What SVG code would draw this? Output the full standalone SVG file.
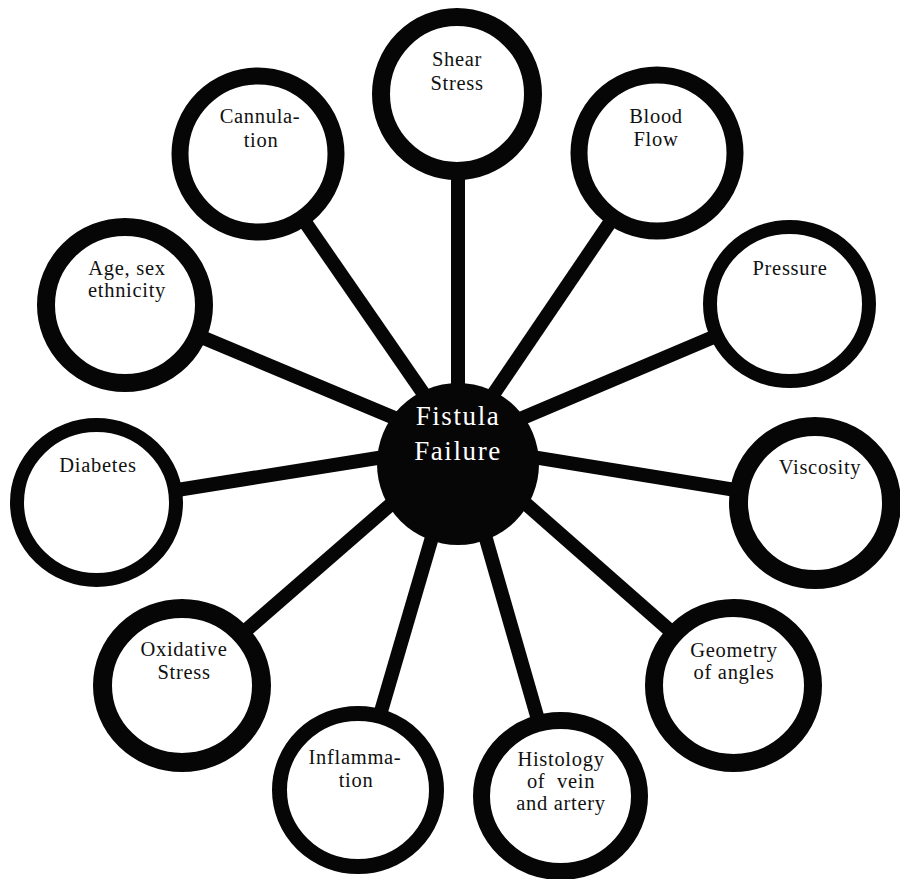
<svg xmlns="http://www.w3.org/2000/svg" width="900" height="879" viewBox="0 0 900 879">
<style>
.ring{fill:#fff;stroke:#060606}
.lbl{font-family:"Liberation Serif","Times New Roman",serif;font-size:20.5px;letter-spacing:0.7px;fill:#111;text-anchor:middle}
.hub-lbl{font-family:"Liberation Serif","Times New Roman",serif;font-size:27px;letter-spacing:1.6px;fill:#fff;text-anchor:middle}
.conn line{stroke:#060606;stroke-width:14}
</style>
<rect width="900" height="879" fill="#fff"/>
<g id="connectors" class="conn">
<line x1="458" y1="445" x2="458" y2="94"/>
<line x1="459" y1="445" x2="657" y2="153"/>
<line x1="459" y1="445" x2="258" y2="154"/>
<line x1="459" y1="445" x2="125" y2="305"/>
<line x1="459" y1="445" x2="789" y2="305"/>
<line x1="459" y1="445" x2="96" y2="503"/>
<line x1="459" y1="445" x2="815" y2="503"/>
<line x1="459" y1="445" x2="182" y2="686"/>
<line x1="459" y1="445" x2="733" y2="686"/>
<line x1="459" y1="445" x2="358" y2="790"/>
<line x1="459" y1="445" x2="560" y2="796"/>
</g>
<g id="shear-stress"><ellipse class="ring" cx="457" cy="94" rx="76" ry="77" stroke-width="18"/><text class="lbl" x="457" y="66">Shear</text><text class="lbl" x="457" y="90">Stress</text></g>
<g id="blood-flow"><ellipse class="ring" cx="657" cy="153" rx="78" ry="78" stroke-width="17"/><text class="lbl" x="656" y="123">Blood</text><text class="lbl" x="656" y="146">Flow</text></g>
<g id="cannulation"><ellipse class="ring" cx="258" cy="154" rx="78" ry="78" stroke-width="17"/><text class="lbl" x="260" y="123">Cannula-</text><text class="lbl" x="261" y="147">tion</text></g>
<g id="age"><ellipse class="ring" cx="125" cy="305" rx="79" ry="78" stroke-width="18"/><text class="lbl" x="127" y="275">Age, sex</text><text class="lbl" x="127" y="297">ethnicity</text></g>
<g id="pressure"><ellipse class="ring" cx="789.5" cy="304" rx="79.5" ry="77" stroke-width="14"/><text class="lbl" x="790" y="275">Pressure</text></g>
<g id="diabetes"><ellipse class="ring" cx="96.5" cy="502.5" rx="79.5" ry="77.5" stroke-width="14"/><text class="lbl" x="98" y="472">Diabetes</text></g>
<g id="viscosity"><ellipse class="ring" cx="815" cy="503" rx="76.5" ry="76.5" stroke-width="19"/><text class="lbl" x="820" y="474">Viscosity</text></g>
<g id="oxidative-stress"><ellipse class="ring" cx="182" cy="685.5" rx="79.5" ry="77" stroke-width="19"/><text class="lbl" x="184" y="656">Oxidative</text><text class="lbl" x="184" y="679">Stress</text></g>
<g id="geometry"><ellipse class="ring" cx="733.5" cy="685.5" rx="79.5" ry="77.5" stroke-width="18"/><text class="lbl" x="734" y="657">Geometry</text><text class="lbl" x="734" y="679">of angles</text></g>
<g id="inflammation"><ellipse class="ring" cx="358" cy="790" rx="78.5" ry="76.5" stroke-width="15"/><text class="lbl" x="355" y="764">Inflamma-</text><text class="lbl" x="356" y="787">tion</text></g>
<g id="histology"><ellipse class="ring" cx="560.5" cy="796" rx="79" ry="75.5" stroke-width="17"/><text class="lbl" x="561" y="766">Histology</text><text class="lbl" x="561" y="788" xml:space="preserve">of  vein</text><text class="lbl" x="561" y="810">and artery</text></g>
<g id="fistula-failure"><circle cx="458" cy="464" r="81" fill="#060606"/><text class="hub-lbl" x="458" y="425">Fistula</text><text class="hub-lbl" x="458" y="460">Failure</text></g>
</svg>
